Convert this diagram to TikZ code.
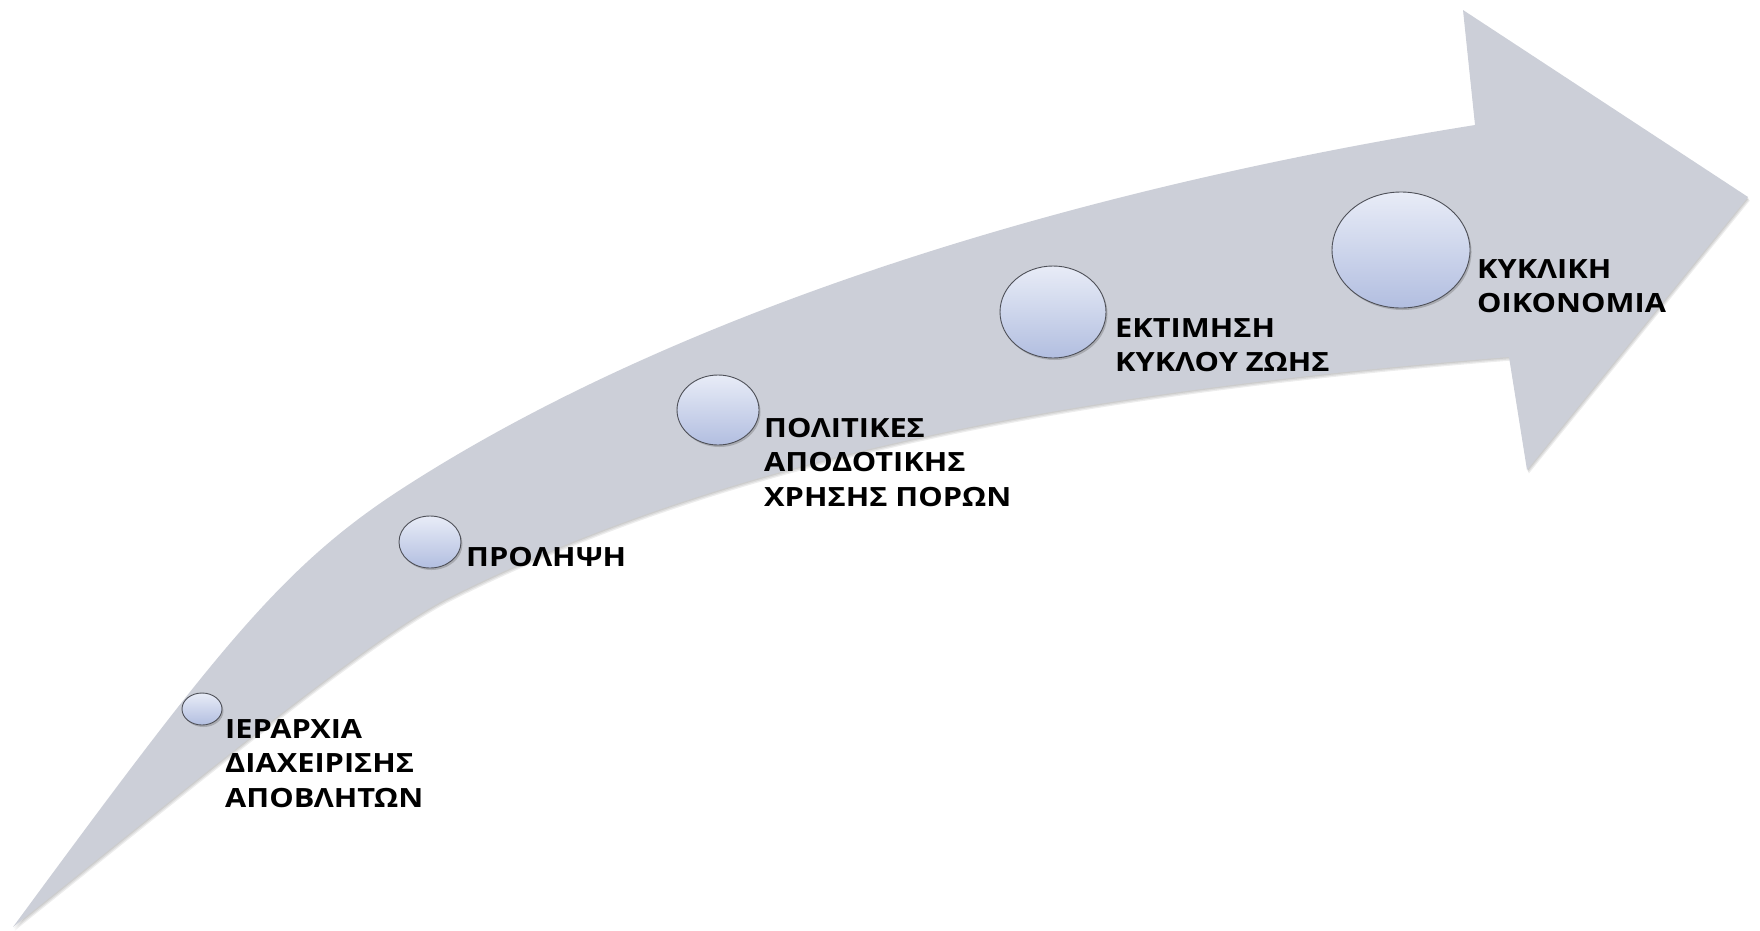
\documentclass[tikz,border=0pt]{standalone}
\usepackage{fontspec}
\setmainfont{Open Sans}[FakeStretch=1.16]
\usetikzlibrary{shapes.geometric,shadows}

\definecolor{arrowfill}{RGB}{204,207,216}
\definecolor{bubbletop}{RGB}{232,236,247}
\definecolor{bubblebot}{RGB}{178,190,224}
\definecolor{bubbleline}{RGB}{78,80,88}

\newcommand{\stagetext}[1]{\begin{tabular}[t]{@{}l@{}}#1\end{tabular}}

\begin{document}
\begin{tikzpicture}[x=1pt,y=-1pt,
  arrowpath/.style={insert path={
    (13,927) .. controls (213,655) and (280,568) .. (400,490)
    .. controls (650,327.5) and (1025,197) .. (1475,125)
    -- (1463,10) -- (1748,197) -- (1527,470) -- (1509,357)
    .. controls (1109,389) and (750,447) .. (450,597)
    .. controls (370,637) and (193,783) .. (13,927) -- cycle}},
  bubble/.style={ellipse, draw=bubbleline, line width=0.9pt,
    top color=bubbletop, bottom color=bubblebot, inner sep=0pt,
    drop shadow={shadow xshift=1.5pt, shadow yshift=-2pt, opacity=0.35, fill=black!60}},
  stagelabel/.style={anchor=base west, inner sep=0pt,
    font=\fontsize{26.5}{34.5}\selectfont\bfseries}]
\useasboundingbox (0,0) rectangle (1760,930);

% soft shadow under the curved block arrow
\foreach \d in {1,2,3}
  \fill[black, opacity=0.07, shift={(0.6*\d,1.2*\d)}, arrowpath];
% curved block arrow
\fill[arrowfill, arrowpath];

% stages
\node[bubble, minimum width=40, minimum height=32] (c1) at (202,709) {};
\node[bubble, minimum width=62, minimum height=52] (c2) at (430,542) {};
\node[bubble, minimum width=82, minimum height=70] (c3) at (718,410) {};
\node[bubble, minimum width=106, minimum height=92] (c4) at (1053,312) {};
\node[bubble, minimum width=138, minimum height=116] (c5) at (1401,250) {};

\node[stagelabel] (t1) at (225,738) {\stagetext{ΙΕΡΑΡΧΙΑ\\ΔΙΑΧΕΙΡΙΣΗΣ\\ΑΠΟΒΛΗΤΩΝ}};
\node[stagelabel] (t2) at (466,566) {\stagetext{ΠΡΟΛΗΨΗ}};
\node[stagelabel] (t3) at (764,437) {\stagetext{ΠΟΛΙΤΙΚΕΣ\\ΑΠΟΔΟΤΙΚΗΣ\\ΧΡΗΣΗΣ ΠΟΡΩΝ}};
\node[stagelabel] (t4) at (1115,337) {\stagetext{ΕΚΤΙΜΗΣΗ\\ΚΥΚΛΟΥ ΖΩΗΣ}};
\node[stagelabel] (t5) at (1477,278) {\stagetext{ΚΥΚΛΙΚΗ\\ΟΙΚΟΝΟΜΙΑ}};
\end{tikzpicture}
\end{document}
